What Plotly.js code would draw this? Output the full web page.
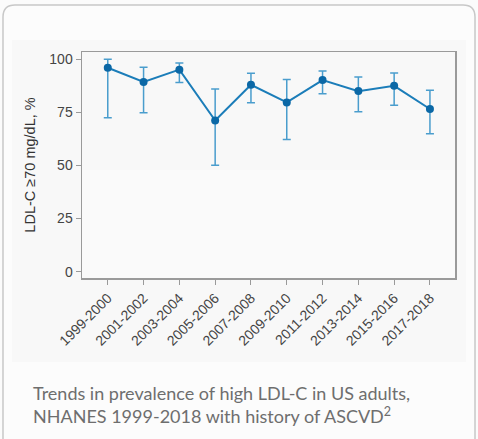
<!DOCTYPE html>
<html>
<head>
<meta charset="utf-8">
<script src="https://cdn.plot.ly/plotly-3.0.1.min.js"></script>
<style>
html,body{margin:0;padding:0;background:#fbfbfb;}
#chart{width:478px;height:439px;}
</style>
</head>
<body>
<div id="chart"></div>
<script>
const periods = ["1999-2000","2001-2002","2003-2004","2005-2006","2007-2008","2009-2010","2011-2012","2013-2014","2015-2016","2017-2018"];
const prevalence = [95.9, 89.2, 95.0, 71.1, 87.9, 79.6, 90.1, 84.9, 87.4, 76.5];
const upperCI = [99.9, 96.1, 98.1, 85.9, 93.3, 90.4, 94.4, 91.5, 93.4, 85.3];
const lowerCI = [72.4, 74.7, 89.0, 50.0, 79.4, 62.2, 83.7, 75.2, 78.2, 64.8];
const yTicks = [0, 25, 50, 75, 100];

const errPlus = prevalence.map((v, i) => upperCI[i] - v);
const errMinus = prevalence.map((v, i) => v - lowerCI[i]);

const W = 478, H = 439, L = 82, R = 23, T = 52, B = 161;
const pw = W - L - R, ph = H - T - B;
const px = x => (x - L) / pw;
const py = y => (H - B - y) / ph;

const trace = {
  x: periods,
  y: prevalence,
  type: 'scatter',
  mode: 'lines+markers',
  line: {color: '#1b7db9', width: 2},
  marker: {color: '#0b68a6', size: 8},
  error_y: {
    type: 'data', symmetric: false,
    array: errPlus, arrayminus: errMinus,
    color: '#4a9dcd', thickness: 1.5, width: 4
  },
  hoverinfo: 'skip'
};

const cx0 = px(3), cx1 = px(475), cyt = py(5), cyb = py(460);
const rx = 12 / pw, ry = 12 / ph;
const cardPath = `M ${cx0},${cyb} L ${cx0},${cyt - ry} Q ${cx0},${cyt} ${cx0 + rx},${cyt} L ${cx1 - rx},${cyt} Q ${cx1},${cyt} ${cx1},${cyt - ry} L ${cx1},${cyb}`;

const layout = {
  width: W, height: H,
  margin: {l: L, r: R, t: T, b: B, pad: 0},
  paper_bgcolor: '#fbfbfb',
  plot_bgcolor: '#ffffff',
  font: {family: 'Arial, "Liberation Sans", Helvetica, sans-serif', color: '#444', size: 14},
  showlegend: false,
  xaxis: {
    type: 'category',
    range: [-0.72, 9.7],
    showgrid: false, zeroline: false,
    showline: true, linecolor: '#9a9a9a', linewidth: 1.5, mirror: true,
    ticks: 'outside', ticklen: 5, tickcolor: '#9a9a9a', tickwidth: 1,
    tickangle: -45,
    tickfont: {size: 14, color: '#444'}
  },
  yaxis: {
    range: [-3, 103.3],
    tickvals: yTicks,
    showgrid: false, zeroline: false,
    showline: true, linecolor: '#9a9a9a', linewidth: 1.5, mirror: true,
    ticks: 'outside', ticklen: 5, tickcolor: '#9a9a9a', tickwidth: 1,
    tickfont: {size: 14, color: '#444'},
    title: {text: 'LDL-C ≥70 mg/dL, %', font: {size: 14.5, color: '#333'}, standoff: 10}
  },
  shapes: [
    {type: 'path', xref: 'paper', yref: 'paper', path: cardPath,
     line: {color: '#c8c8c8', width: 1.5}, fillcolor: '#fcfcfc', layer: 'below'},
    {type: 'rect', xref: 'paper', yref: 'paper',
     x0: px(12), x1: px(466), y0: py(362), y1: py(40),
     line: {width: 0}, fillcolor: '#f8f8f8', layer: 'below'},
    {type: 'rect', xref: 'paper', yref: 'paper',
     x0: 0, x1: 1, y0: 0, y1: py(170),
     line: {width: 0}, fillcolor: '#fafafa', layer: 'below'}
  ],
  annotations: [
    {xref: 'paper', yref: 'paper', x: px(31), y: py(380),
     xanchor: 'left', yanchor: 'top', align: 'left', showarrow: false,
     text: 'Trends in prevalence of high LDL-C in US adults,<br>NHANES 1999-2018 with history of ASCVD<sup>2</sup>',
     font: {family: 'Lato, "Open Sans", sans-serif', size: 18, color: '#6e6e6e'}}
  ]
};

Plotly.newPlot('chart', [trace], layout, {staticPlot: true, displayModeBar: false});
</script>
</body>
</html>
